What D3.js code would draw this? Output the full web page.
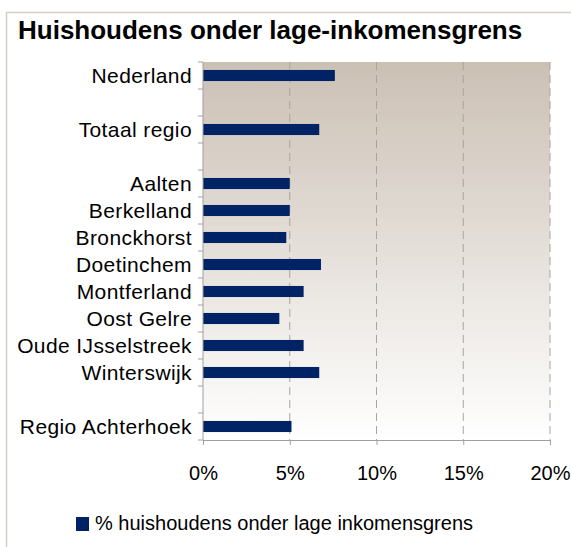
<!DOCTYPE html>
<html>
<head>
<meta charset="utf-8">
<script src="https://cdn.jsdelivr.net/npm/d3@7"></script>
<style>
  body { margin: 0; background: #fff; }
  svg { display: block; font-family: "Liberation Sans", Arial, sans-serif; }
</style>
</head>
<body>
<div id="chart"></div>
<script>
// Data
const categories = ["Nederland", "", "Totaal regio", " ", "Aalten", "Berkelland", "Bronckhorst",
    "Doetinchem", "Montferland", "Oost Gelre", "Oude IJsselstreek", "Winterswijk", "  ", "Regio Achterhoek"];
const values = [7.6, null, 6.7, null, 5.0, 5.0, 4.8, 6.8, 5.8, 4.4, 5.8, 6.7, null, 5.1];
const xTicks = [0, 5, 10, 15, 20];
const seriesName = "% huishoudens onder lage inkomensgrens";

const W = 571, H = 547;
const margin = { top: 62, right: 21, bottom: 107, left: 203 };
const width = W - margin.left - margin.right;
const height = H - margin.top - margin.bottom;

const svg = d3.select("#chart").append("svg")
    .attr("width", W)
    .attr("height", H);

// background gradient for plot area
const grad = svg.append("defs").append("linearGradient")
    .attr("id", "bg").attr("x1", 0).attr("y1", 0).attr("x2", 0).attr("y2", 1);
grad.append("stop").attr("offset", "0%").attr("stop-color", "#cbc0b4");
grad.append("stop").attr("offset", "100%").attr("stop-color", "#ffffff");

// outer frame
svg.append("rect")
    .attr("x", 6.5).attr("y", 12.5)
    .attr("width", W + 10).attr("height", H + 10)
    .attr("fill", "none")
    .attr("stroke", "#d6cec6")
    .attr("stroke-width", 1.5);

// title
svg.append("text")
    .attr("x", 18).attr("y", 39)
    .style("font-size", "26px")
    .style("font-weight", "bold")
    .text("Huishoudens onder lage-inkomensgrens");

const g = svg.append("g")
    .attr("transform", `translate(${margin.left},${margin.top})`);

const x = d3.scaleLinear().domain([0, 20]).range([0, width]);
const y = d3.scaleBand().domain(categories).range([0, height]).padding(0);

g.append("rect")
    .attr("width", width).attr("height", height)
    .attr("fill", "url(#bg)");

// dashed gridlines
g.selectAll(".grid")
    .data(xTicks.filter(d => d > 0))
    .enter().append("line")
    .attr("x1", d => x(d)).attr("x2", d => x(d))
    .attr("y1", 0).attr("y2", height)
    .attr("stroke", "#a8a4a0")
    .attr("stroke-dasharray", "8,5");

// bars
const barH = y.step() * 0.41;
g.selectAll(".bar")
    .data(categories.map((c, i) => ({ c, v: values[i] })).filter(d => d.v !== null))
    .enter().append("rect")
    .attr("class", "bar")
    .attr("x", 0)
    .attr("y", d => y(d.c) + (y.step() - barH) / 2)
    .attr("width", d => x(d.v))
    .attr("height", barH)
    .attr("fill", "#002366");

// y axis with ticks at slot boundaries
const yAxis = g.append("g");
yAxis.append("line")
    .attr("x1", 0).attr("x2", 0).attr("y1", 0).attr("y2", height)
    .attr("stroke", "#a0a0a0");
yAxis.selectAll(".ytick")
    .data(d3.range(categories.length + 1))
    .enter().append("line")
    .attr("x1", -5).attr("x2", 0)
    .attr("y1", i => i * y.step()).attr("y2", i => i * y.step())
    .attr("stroke", "#a0a0a0");
yAxis.selectAll(".ylabel")
    .data(categories)
    .enter().append("text")
    .attr("x", -11)
    .attr("y", d => y(d) + y.step() / 2)
    .attr("dy", "0.36em")
    .attr("text-anchor", "end")
    .style("font-size", "21px")
    .style("letter-spacing", "0.4px")
    .text(d => d.trim());

// x axis
const xAxis = g.append("g")
    .attr("transform", `translate(0,${height})`)
    .call(d3.axisBottom(x).tickValues(xTicks).tickSize(5).tickPadding(21).tickFormat(d => d + "%"));
xAxis.select(".domain").attr("stroke", "#a0a0a0");
xAxis.selectAll(".tick line").attr("stroke", "#a0a0a0");
xAxis.selectAll("text")
    .style("font-size", "20px")
    .style("font-family", "Liberation Sans, Arial, sans-serif")
    .attr("fill", "#000");

// legend
const legend = svg.append("g").attr("transform", "translate(76,517)");
legend.append("rect").attr("width", 13).attr("height", 14).attr("fill", "#002366");
legend.append("text")
    .attr("x", 19).attr("y", 13)
    .style("font-size", "20px")
    .text(seriesName);
</script>
</body>
</html>
